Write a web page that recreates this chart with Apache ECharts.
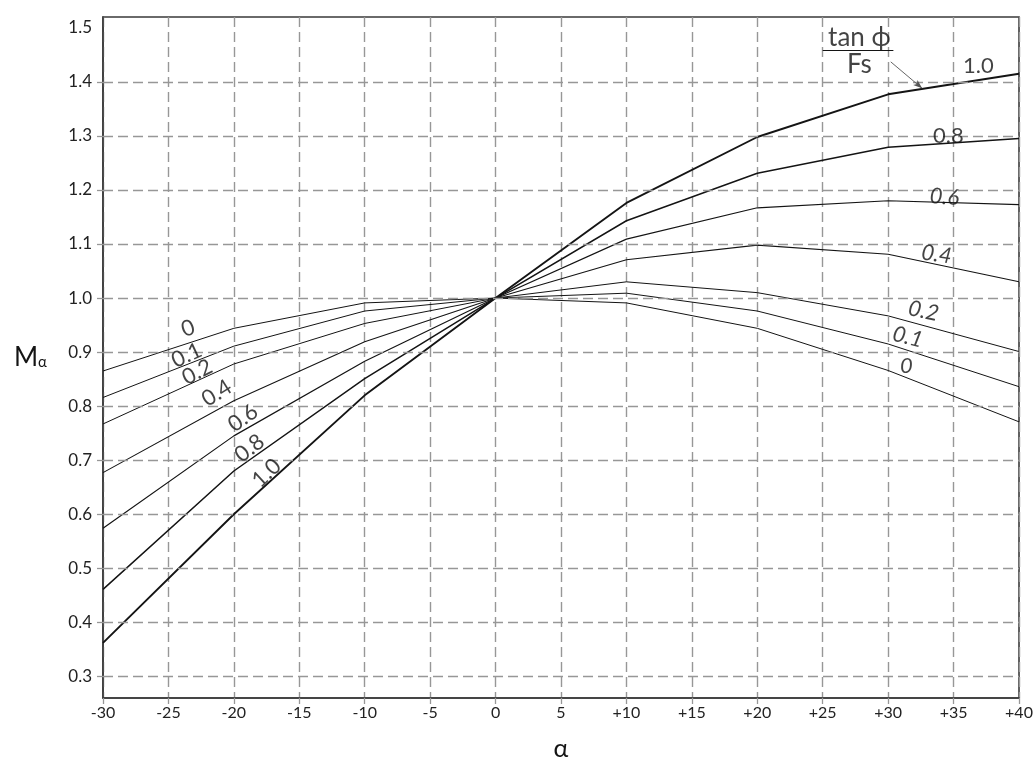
<!DOCTYPE html>
<html>
<head>
<meta charset="utf-8">
<title>Mα versus α</title>
<script src="https://cdn.jsdelivr.net/npm/echarts@6/dist/echarts.min.js"></script>
<style>
  html, body { margin: 0; padding: 0; background: #fff; }
  #chart { width: 1036px; height: 770px; }
</style>
</head>
<body>
<div id="chart"></div>
<script>
// Inclination α (degrees) at which each curve is tabulated
const alpha = [-30, -20, -10, 0, 10, 20, 30, 40];

// Mα for each value of tanϕ / Fs
const m100 = [0.362, 0.600, 0.820, 1.000, 1.176, 1.298, 1.377, 1.415];
const m080 = [0.461, 0.680, 0.851, 1.000, 1.143, 1.231, 1.279, 1.295];
const m060 = [0.574, 0.745, 0.883, 1.000, 1.109, 1.167, 1.180, 1.173];
const m040 = [0.677, 0.810, 0.919, 1.000, 1.071, 1.098, 1.081, 1.030];
const m020 = [0.767, 0.878, 0.953, 1.000, 1.030, 1.010, 0.967, 0.901];
const m010 = [0.816, 0.911, 0.976, 1.000, 1.009, 0.976, 0.915, 0.836];
const m000 = [0.865, 0.944, 0.991, 1.000, 0.991, 0.944, 0.866, 0.771];

const ratioLabels = ['1.0', '0.8', '0.6', '0.4', '0.2', '0.1', '0'];
const curves = [m100, m080, m060, m040, m020, m010, m000];

// Axis ticks
const yGridValues = [0.3, 0.4, 0.5, 0.6, 0.7, 0.8, 0.9, 1.0, 1.1, 1.2, 1.3, 1.4];
const yLabelValues = [0.3, 0.4, 0.5, 0.6, 0.7, 0.8, 0.9, 1.0, 1.1, 1.2, 1.3, 1.4, 1.5];

const ink = '#141414';
const gridGray = '#979797';
const frame = '#3a3a3a';
const font = 'Lato, "Open Sans", "DejaVu Sans", sans-serif';
const lineWidths = [1.9, 1.5, 1.2, 1.1, 1.0, 1.0, 1.0];

// Where each curve is tagged with its tanϕ/Fs value: [α, Mα, rotation°, italic]
const leftTags = [
  [-17.5, 0.676, 43, false],
  [-18.8, 0.722, 38, false],
  [-19.3, 0.778, 35, false],
  [-21.3, 0.824, 32, false],
  [-22.8, 0.863, 27, false],
  [-23.6, 0.894, 25, false],
  [-23.5, 0.944, 20, false]
];
const rightTags = [
  [36.9, 1.430, 0, false],
  [34.6, 1.300, 0, false],
  [34.3, 1.187, -4, true],
  [33.7, 1.081, -8, true],
  [32.7, 0.976, -12, true],
  [31.5, 0.928, -14, true],
  [31.4, 0.874, 0, true]
];

const curveSeries = curves.map((vals, i) => ({
  name: ratioLabels[i],
  type: 'line',
  data: alpha.map((a, j) => [a, vals[j]]),
  symbol: 'none',
  silent: true,
  z: 3,
  lineStyle: { color: ink, width: lineWidths[i] }
}));

const tagData = [];
ratioLabels.forEach((txt, i) => {
  [leftTags[i], rightTags[i]].forEach(t => {
    tagData.push({
      value: [t[0], t[1]],
      label: { formatter: txt, rotate: t[2], fontStyle: t[3] ? 'italic' : 'normal' }
    });
  });
});

// Legend key for the curve parameter: tanϕ over Fs, pointing to the top curve
tagData.push({ value: [27.8, 1.482], label: { formatter: 'tan ϕ', fontSize: 26 } });
tagData.push({ value: [27.8, 1.432], label: { formatter: 'Fs', fontSize: 26 } });

const option = {
  animation: false,
  backgroundColor: '#ffffff',
  grid: {
    left: 103, right: 17, top: 17, bottom: 72,
    show: true, borderColor: frame, borderWidth: 1.6, backgroundColor: 'transparent'
  },
  xAxis: {
    type: 'value',
    min: -30, max: 40, interval: 5,
    name: 'α',
    nameLocation: 'middle',
    nameGap: 38,
    nameTextStyle: { fontSize: 25, color: ink, fontFamily: font },
    axisLine: { show: true, onZero: false, lineStyle: { color: frame, width: 1.6 } },
    axisTick: { show: true, length: 6, lineStyle: { color: gridGray, width: 1.3 } },
    axisLabel: {
      margin: 7, fontSize: 16, color: '#222', fontFamily: font,
      formatter: v => (v >= 10 ? '+' + v : String(v))
    },
    splitLine: { show: true, lineStyle: { color: gridGray, width: 1.4, type: [10, 5] } }
  },
  yAxis: {
    type: 'value',
    min: 0.26, max: 1.52,
    name: '{m|M}{s|α}',
    nameLocation: 'middle',
    nameRotate: 0,
    nameGap: 56,
    nameTextStyle: {
      fontFamily: font, color: ink,
      rich: {
        m: { fontSize: 26, fontFamily: font, color: ink },
        s: { fontSize: 15, fontFamily: font, color: ink, padding: [10, 0, 0, 0] }
      }
    },
    axisLine: { show: true, onZero: false, lineStyle: { color: frame, width: 1.6 } },
    axisTick: { show: true, length: 6, customValues: yGridValues, lineStyle: { color: gridGray, width: 1.3 } },
    axisLabel: {
      margin: 11, fontSize: 17, color: '#222', fontFamily: font,
      customValues: yLabelValues,
      formatter: v => v.toFixed(1)
    },
    splitLine: { show: false }
  },
  series: [
    {
      // horizontal dashed grid at the labelled Mα values
      type: 'line',
      data: [],
      silent: true,
      z: 1,
      markLine: {
        silent: true,
        symbol: 'none',
        animation: false,
        label: { show: false },
        lineStyle: { color: gridGray, width: 1.4, type: [10, 5] },
        data: yGridValues.map(v => ({ yAxis: v }))
      }
    },
    ...curveSeries,
    {
      // curve tags and the tanϕ/Fs key
      type: 'scatter',
      symbolSize: 0,
      silent: true,
      z: 5,
      data: tagData,
      label: {
        show: true, position: 'inside',
        fontSize: 22, color: ink, fontFamily: font
      },
      markLine: {
        silent: true,
        animation: false,
        label: { show: false },
        lineStyle: { color: ink, width: 1.1, type: 'solid' },
        data: [
          [
            { coord: [25.0, 1.459], symbol: 'none' },
            { coord: [30.4, 1.459], symbol: 'none' }
          ],
          [
            { coord: [30.2, 1.437], symbol: 'none', lineStyle: { color: '#555', width: 0.9 } },
            { coord: [32.6, 1.388], symbol: 'arrow', symbolSize: [5, 9] }
          ]
        ]
      }
    }
  ]
};

const chart = echarts.init(document.getElementById('chart'), null, { renderer: 'canvas' });
chart.setOption(option);
</script>
</body>
</html>
